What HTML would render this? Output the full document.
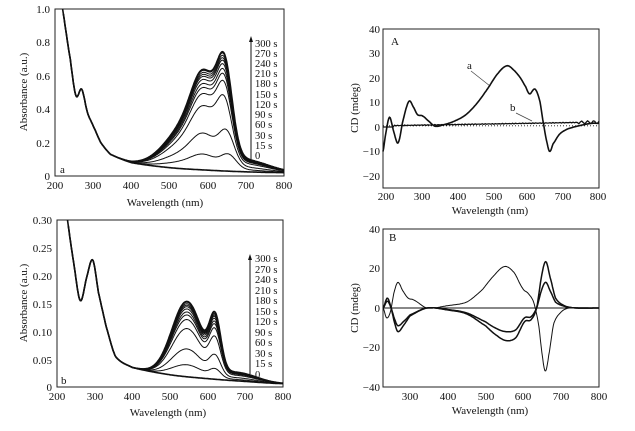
<!DOCTYPE html>
<html><head><meta charset="utf-8"><style>
html,body{margin:0;padding:0;background:#fff}
svg{display:block}
text{font-family:"Liberation Serif",serif;fill:#111}
</style></head><body>
<svg id="s" width="635" height="431" viewBox="0 0 635 431" xmlns="http://www.w3.org/2000/svg">
<g font-size="11">
<!-- TL -->
<rect x="55" y="9" width="229" height="167" fill="none" stroke="#222" stroke-width="1"/>
<g text-anchor="end">
<text x="50" y="13">1.0</text><text x="50" y="46">0.8</text><text x="50" y="80">0.6</text><text x="50" y="113">0.4</text><text x="50" y="147">0.2</text><text x="50" y="180">0</text>
</g>
<g text-anchor="middle">
<text x="55" y="189">200</text><text x="93" y="189">300</text><text x="131" y="189">400</text><text x="169" y="189">500</text><text x="208" y="189">600</text><text x="246" y="189">700</text><text x="284" y="189">800</text>
<text x="165" y="206">Wavelength (nm)</text>
<text transform="translate(27,92) rotate(-90)">Absorbance (a.u.)</text>
</g>
<text x="60" y="173">a</text>
<g font-size="10.5"><text x="255" y="47">300 s</text><text x="255" y="57">270 s</text><text x="255" y="67">240 s</text><text x="255" y="77">210 s</text><text x="255" y="87">180 s</text><text x="255" y="98">150 s</text><text x="255" y="108">120 s</text><text x="255" y="118">90 s</text><text x="255" y="128">60 s</text><text x="255" y="139">30 s</text><text x="255" y="149">15 s</text><text x="255" y="159">0</text></g>
<line x1="251" y1="160" x2="251" y2="40" stroke="#111"/><path d="M249,42 L251,36 L253,42Z" fill="#111"/>
<!-- BL -->
<rect x="57" y="220" width="226" height="167" fill="none" stroke="#222"/>
<g text-anchor="end">
<text x="52" y="224">0.30</text><text x="52" y="252">0.25</text><text x="52" y="280">0.20</text><text x="52" y="308">0.15</text><text x="52" y="336">0.10</text><text x="52" y="364">0.05</text><text x="52" y="391">0</text>
</g>
<g text-anchor="middle">
<text x="57" y="400">200</text><text x="95" y="400">300</text><text x="132" y="400">400</text><text x="170" y="400">500</text><text x="208" y="400">600</text><text x="245" y="400">700</text><text x="283" y="400">800</text>
<text x="168" y="416">Wavelength (nm)</text>
<text transform="translate(27,303) rotate(-90)">Absorbance (a.u.)</text>
</g>
<text x="61" y="384">b</text>
<g font-size="10.5"><text x="255" y="262">300 s</text><text x="255" y="273">270 s</text><text x="255" y="283">240 s</text><text x="255" y="294">210 s</text><text x="255" y="304">180 s</text><text x="255" y="315">150 s</text><text x="255" y="325">120 s</text><text x="255" y="336">90 s</text><text x="255" y="346">60 s</text><text x="255" y="357">30 s</text><text x="255" y="367">15 s</text><text x="255" y="378">0</text></g>
<line x1="250" y1="374" x2="250" y2="258" stroke="#111"/><path d="M248,260 L250,254 L252,260Z" fill="#111"/>
<!-- TR -->
<rect x="383" y="29" width="216" height="159" fill="none" stroke="#222"/>
<g text-anchor="end">
<text x="380" y="33">40</text><text x="380" y="57">30</text><text x="380" y="82">20</text><text x="380" y="106">10</text><text x="380" y="131">0</text><text x="380" y="155">−10</text><text x="380" y="180">−20</text>
</g>
<g text-anchor="middle">
<text x="386" y="200">200</text><text x="422" y="200">300</text><text x="458" y="200">400</text><text x="494" y="200">500</text><text x="527" y="200">600</text><text x="563" y="200">700</text><text x="598" y="200">800</text>
<text x="490" y="214">Wavelength (nm)</text>
<text transform="translate(358,108) rotate(-90)">CD (mdeg)</text>
</g>
<text x="391" y="45">A</text>
<text x="467" y="69">a</text><line x1="471" y1="71" x2="490" y2="86" stroke="#444" stroke-width=".7"/>
<text x="510" y="111">b</text><line x1="516" y1="113" x2="532" y2="121" stroke="#444" stroke-width=".7"/>
<!-- BR -->
<rect x="383" y="229" width="216" height="158" fill="none" stroke="#222"/>
<g text-anchor="end">
<text x="380" y="233">40</text><text x="380" y="272">20</text><text x="380" y="312">0</text><text x="380" y="351">−20</text><text x="380" y="391">−40</text>
</g>
<g text-anchor="middle">
<text x="410" y="400">300</text><text x="448" y="400">400</text><text x="486" y="400">500</text><text x="523" y="400">600</text><text x="561" y="400">700</text><text x="599" y="400">800</text>
<text x="490" y="414">Wavelength (nm)</text>
<text transform="translate(358,308) rotate(-90)">CD (mdeg)</text>
</g>
<text x="389" y="241">B</text>
<line x1="383" y1="308" x2="599" y2="308" stroke="#111"/>
</g>
<g id="curves" fill="none" stroke="#111" stroke-linejoin="round"></g>
</svg>
<script>
var g=document.getElementById('curves');
function G(x,m,s){return Math.exp(-0.5*((x-m)/s)*((x-m)/s));}
function path(pts,w,extra){var p=document.createElementNS('http://www.w3.org/2000/svg','path');var d='';pts.forEach(function(q,i){d+=(i?'L':'M')+q[0].toFixed(1)+','+q[1].toFixed(1);});p.setAttribute('d',d);p.setAttribute('stroke-width',w);if(extra)p.setAttribute('stroke-dasharray',extra);g.appendChild(p);}
function interp(cp,x){for(var i=0;i<cp.length-1;i++){if(x<=cp[i+1][0]){var a=cp[Math.max(i-1,0)],b=cp[i],c=cp[i+1],d=cp[Math.min(i+2,cp.length-1)];var t=(x-b[0])/(c[0]-b[0]);var m1=(c[1]-a[1])/2,m2=(d[1]-b[1])/2;var t2=t*t,t3=t2*t;return (2*t3-3*t2+1)*b[1]+(t3-2*t2+t)*m1+(-2*t3+3*t2)*c[1]+(t3-t2)*m2;}}return cp[cp.length-1][1];}
// TL
var bgA=[[200,1.3],[220,1.0],[240,0.7],[255,0.48],[270,0.52],[285,0.38],[300,0.3],[320,0.2],[345,0.13],[400,0.08],[500,0.05],[600,0.035],[700,0.025],[800,0.02]];
var ks=[0,0.16,0.37,0.64,0.76,0.82,0.86,0.9,0.93,0.95,0.97,0.99,1.0];
ks.forEach(function(k,j){var pts=[];for(var x=200;x<=800;x+=2){var b=interp(bgA,x);var sh=(j<3)?15*(1-j/3):0;var band=k*(0.5*G(x,645+sh,20)+0.4*G(x,592,32)+0.25*G(x,545,55)+0.07*G(x,700,60));var y=176-(b+band)*167;if(y<9)continue;pts.push([55+(x-200)*229/600,y]);}path(pts,j==0||j==ks.length-1?1.6:1);});
// BL
var bgB=[[200,0.4],[228,0.3],[245,0.22],[262,0.155],[280,0.2],[295,0.228],[310,0.17],[330,0.11],[355,0.055],[400,0.035],[500,0.022],[600,0.015],[700,0.01],[800,0.006]];
ks.forEach(function(k,j){var pts=[];for(var x=200;x<=800;x+=2){var b=interp(bgB,x);var band=k*(0.135*G(x,545,40)+0.09*G(x,620,15)+0.015*G(x,680,50));var y=387-(b+band)*167/0.3;if(y<220)continue;pts.push([57+(x-200)*226/600,y]);}path(pts,j==0||j==ks.length-1?1.6:1);});
// TR
function trx(x){return 383+(x-200)*216/600;} function tryy(v){return 127-v*2.45;}
var ca=[[200,-10],[207,-3],[218,4],[230,-2],[242,-6.5],[256,3],[272,10.5],[285,8],[296,5],[310,4.5],[330,2],[345,0.3],[370,1],[400,2.5],[430,5],[460,9.5],[490,15.5],[520,22],[545,25],[565,23],[582,20],[596,16.5],[607,13.5],[622,15.5],[635,11],[645,2],[655,-6],[663,-10],[672,-7],[690,-3],[710,-1],[730,0],[760,1],[780,1.5],[800,1.5]];
var pts=[];for(var x=200;x<=800;x+=2)pts.push([trx(x),tryy(interp(ca,x))]);path(pts,1.6);
pts=[];for(var x=200;x<=800;x+=4){var v=0.5+1.5*(x-200)/600+(x>740?0.6*Math.sin(x*0.37):0.15*Math.sin(x*0.9));if(x<230)v=0;pts.push([trx(x),tryy(v)]);}path(pts,1.3);
path([[383,tryy(0.5)],[599,tryy(0.5)]],0.8,'1,2');
// BR
function brx(x){return 410+(x-300)*37.8/100;} function bry(v){return 308-v*1.975;}
var c1=[[229,0],[238,-5],[248,-2],[258,8],[268,13],[280,9],[295,5],[310,4],[345,0],[400,1.2],[450,3],[490,9],[520,16],[550,21],[575,18],[598,10],[612,7.5],[627,3],[640,-8],[650,-24],[658,-32],[667,-24],[680,-8],[700,-2],[720,0],[800,0]];
var c2=[[229,0],[240,5],[250,0],[260,-8],[268,-12],[282,-9],[300,-4],[345,0],[400,-1],[450,-3],[500,-9],[530,-14],[555,-16.5],[580,-15],[603,-7],[620,-6],[635,0],[648,16],[659,23.5],[670,16],[685,5],[710,1],[740,0],[800,0]];
var c3=[[229,0],[240,3.5],[250,0],[260,-6],[268,-9],[282,-7],[300,-3.5],[345,0],[400,-0.8],[450,-2.5],[500,-7],[530,-10.5],[555,-12],[580,-11],[603,-5],[620,-4.5],[635,0],[648,9],[659,13],[670,9],[685,3],[710,0.8],[740,0],[800,0]];
[c1,c2,c3].forEach(function(c,i){var p=[];for(var x=229;x<=800;x+=2)p.push([brx(x),bry(interp(c,x))]);path(p,i?1.5:1);});
</script>
</body></html>
